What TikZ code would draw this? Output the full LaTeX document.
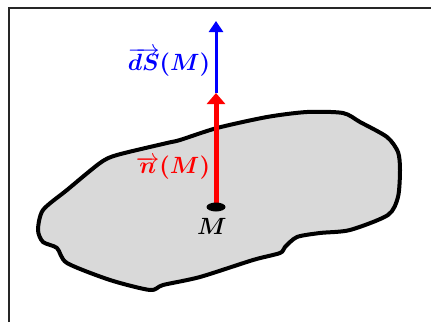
\documentclass[tikz,border=0pt]{standalone}
\usepackage{graphicx}
\usepackage{bm}
\usetikzlibrary{arrows.meta}
\definecolor{surf}{RGB}{217,217,217}
\newcommand{\biglbl}[1]{\scalebox{2.35}{$#1$}}
\tikzset{
  lbl/.style={inner sep=0pt, font=\normalsize},
  frameline/.style={draw=black!85, line width=1.3pt},
}
\begin{document}
\begin{tikzpicture}[x=1pt,y=-1pt]
\useasboundingbox (0,0) rectangle (431,322);
\draw[frameline] (9,322) -- (9,8) -- (431,8);
\draw[line width=4pt, fill=surf, line join=round]
 plot[smooth cycle, tension=0.45] coordinates {
 (38,230) (43,210) (67,190) (100,163) (117,155) (167,143) (180,140)
 (217,128) (267,117) (307,112) (343,113) (360,122) (387,137) (398,152)
 (400,170) (398,197) (388,215) (350,230) (320,233) (297,237) (285,247)
 (280,253) (253,260) (200,277) (163,285) (150,290) (110,280) (67,263)
 (57,248) (43,242)};
\coordinate (M) at (216,207);
\coordinate (ntip) at (216,93);
\coordinate (dstip) at (216,21);
\draw[blue, line width=3pt, -{Triangle[length=11pt,width=14pt]}] (ntip) -- (dstip);
\draw[red, line width=5pt, -{Triangle[length=11pt,width=18pt]}] (M) -- (ntip);
\fill[black] (M) ellipse [x radius=9.5, y radius=4.5];
\node[lbl] (Mlabel) at (212,226) {\biglbl{\bm{M}}};
\node[lbl, text=red] (nlabel) at (173,168) {\biglbl{\overrightarrow{\bm{n}}\bm{(M)}}};
\node[lbl, text=blue] (dslabel) at (169,62) {\biglbl{\overrightarrow{\bm{dS}}\bm{(M)}}};
\end{tikzpicture}
\end{document}
